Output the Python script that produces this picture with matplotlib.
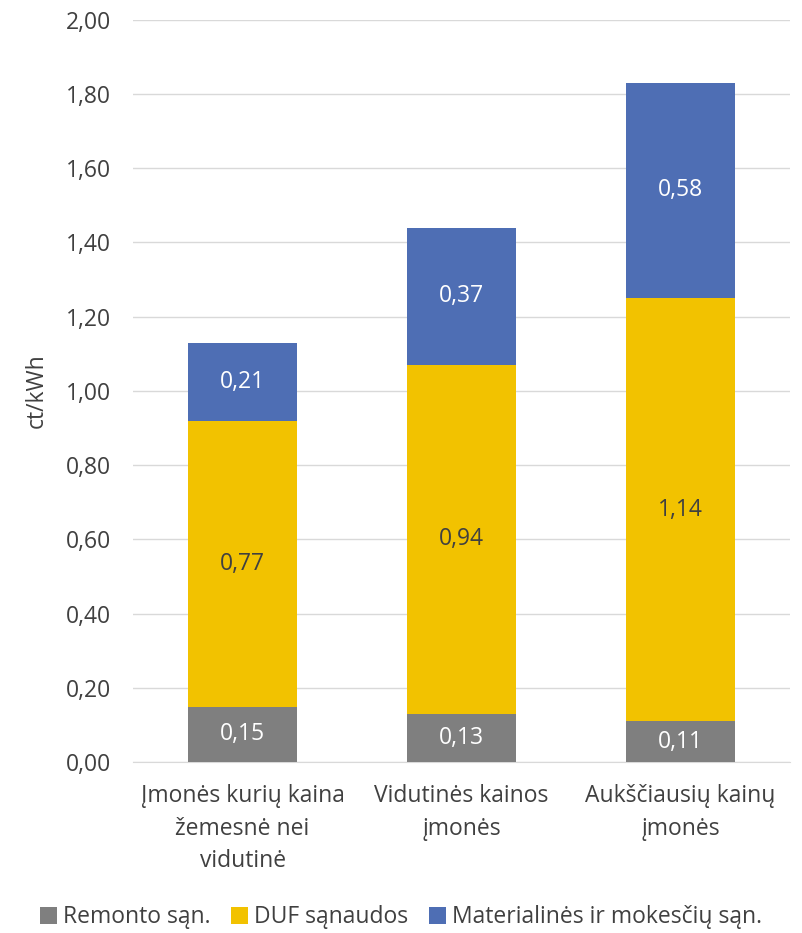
import numpy as np
import matplotlib.pyplot as plt

plt.rcParams['font.family'] = ['Open Sans', 'DejaVu Sans']

categories = ["Įmonės kurių kaina\nžemesnė nei\nvidutinė", "Vidutinės kainos\nįmonės", "Aukščiausių kainų\nįmonės"]
remontas = [0.15, 0.13, 0.11]
duf = [0.77, 0.94, 1.14]
material = [0.21, 0.37, 0.58]
series_names = ["Remonto sąn.", "DUF sąnaudos", "Materialinės ir mokesčių sąn."]
colors = ["#7F7F7F", "#F2C200", "#4E6EB4"]
label_colors = ["white", "#404040", "white"]

fs = 16.5
fig = plt.figure(figsize=(8.02, 9.33), dpi=100)
ax = fig.add_axes([0.166, 0.183, 0.819, 0.796])

x = np.arange(len(categories))
bottom = np.zeros(len(categories))
for vals, name, col, lc in zip([remontas, duf, material], series_names, colors, label_colors):
    ax.bar(x, vals, 0.5, bottom=bottom, color=col, label=name, zorder=3)
    for xi, b, v in zip(x, bottom, vals):
        ax.text(xi, b + v / 2, f"{v:.2f}".replace(".", ","), ha="center", va="center",
                color=lc, fontsize=fs, zorder=4)
    bottom = bottom + np.array(vals)

ax.set_ylim(0, 2.0)
ax.set_xlim(-0.5, 2.5)
yt = np.arange(0, 2.01, 0.2)
ax.set_yticks(yt)
ax.set_yticklabels([f"{v:.2f}".replace(".", ",") for v in yt], fontsize=fs, color="#404040")
ax.set_xticks(x)
ax.set_xticklabels(categories, fontsize=fs, color="#404040", linespacing=1.45)
ax.tick_params(axis="y", length=0, pad=16)
ax.tick_params(axis="x", length=0, pad=16)
ax.grid(axis="y", color="#D9D9D9", linewidth=1, zorder=0)
for s in ["top", "right", "left"]:
    ax.spines[s].set_visible(False)
ax.spines["bottom"].set_color("#D9D9D9")
ax.set_ylabel("ct/kWh", fontsize=fs, color="#404040", labelpad=12)

fig.legend(loc="lower center", bbox_to_anchor=(0.5, -0.018), ncol=3, frameon=False,
           fontsize=fs, handlelength=0.75, handleheight=0.75, handletextpad=0.25,
           columnspacing=0.9, labelcolor="#404040")

fig.savefig("out.png", dpi=100)
